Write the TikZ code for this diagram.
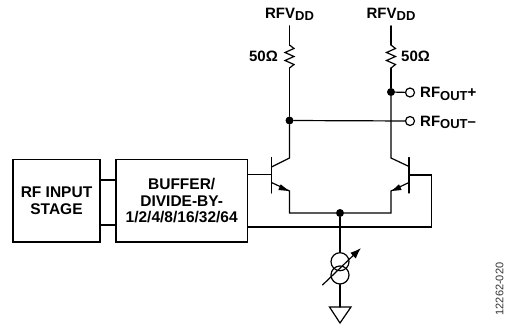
\documentclass[tikz,border=0pt]{standalone}
\usepackage{fontspec}
\setmainfont{Liberation Sans}
\usetikzlibrary{arrows.meta}
\newcommand{\lowtxt}[1]{\raisebox{-2.6pt}{\fontsize{13}{13}\selectfont #1}}
\tikzset{
  wire/.style={line width=1.2pt,line cap=round,line join=miter},
  blockbox/.style={draw,line width=1.2pt,inner sep=0pt,align=center,font=\bfseries\fontsize{15.5}{16.5}\selectfont},
  lbl/.style={inner sep=0pt,font=\bfseries\fontsize{15}{16}\selectfont},
  dot/.style={circle,fill=black,inner sep=0pt,minimum size=8pt},
  term/.style={circle,draw,fill=white,line width=1.2pt,inner sep=0pt,minimum size=9pt},
  isrc/.style={circle,draw,line width=1.2pt,inner sep=0pt,minimum size=18pt},
}
\begin{document}
\begin{tikzpicture}[x=1pt,y=-1pt]
\useasboundingbox (0,0) rectangle (506,327);
% blocks
\node[blockbox,minimum width=87pt,minimum height=82.5pt] (rf) at (56.5,200.7) {RF INPUT\\STAGE};
\node[blockbox,minimum width=131.5pt,minimum height=82.5pt] (buf) at (181.7,200.7) {BUFFER/\\DIVIDE-BY-\\1/2/4/8/16/32/64};
\draw[wire] (rf.east |- 0,180) -- (buf.west |- 0,180);
\draw[wire] (rf.east |- 0,225) -- (buf.west |- 0,225);
% supplies
\node[lbl,anchor=base] (vl) at (289.5,18) {RFV\lowtxt{DD}};
\node[lbl,anchor=base] (vr) at (391,18) {RFV\lowtxt{DD}};
\coordinate (lt) at (289.5,26);
\coordinate (rt) at (391,26);
\coordinate (ls) at (289.5,45);
\coordinate (le) at (289.5,68);
\coordinate (rs) at (391,45);
\coordinate (re) at (391,68);
\draw[wire,line width=1.7pt] (lt) -- (289.5,35);
\draw[wire,line width=1.7pt] (rt) -- (391,35);
\draw[wire] (289.5,35) -- (ls);
\draw[wire] (391,35) -- (rs);
\draw[wire] (ls) -- ++(4.5,3.5) -- ++(-9,4) -- ++(9,4) -- ++(-9,4) -- ++(9,4) -- (le);
\draw[wire] (rs) -- ++(4.5,3.5) -- ++(-9,4) -- ++(9,4) -- ++(-9,4) -- ++(9,4) -- (re);
\node[lbl,anchor=east] (rl) at (278,56.5) {50Ω};
\node[lbl,anchor=west] (rr) at (401,56.5) {50Ω};
% collector nodes
\node[dot] (nl) at (289.5,120.5) {};
\node[dot] (nr) at (391,92) {};
\node[term] (op) at (410,92.5) {};
\node[term] (om) at (410,121) {};
\node[lbl,anchor=base west] at (420,97.5) {RF\lowtxt{OUT}+};
\node[lbl,anchor=base west] at (420,126) {RF\lowtxt{OUT}–};
\draw[wire] (le) -- (nl);
\draw[wire] (re) -- (nr);
\draw[wire] (nr) -- (op);
\draw[wire] (nl) -- (om);
% left transistor
\coordinate (lc) at (289.5,158);
\coordinate (lg) at (289.5,191);
\coordinate (lcb) at (271.5,167);
\coordinate (leb) at (271.5,182.5);
\coordinate (lb) at (271.5,174.7);
\draw[wire] (271.5,157.5) -- (271.5,193);
\draw[wire] (nl) -- (lc) -- (lcb);
\draw[wire] (buf.east |- lb) -- (lb);
% right transistor
\coordinate (rc) at (391,158);
\coordinate (rg) at (391,191);
\coordinate (rcb) at (409,166.5);
\coordinate (reb) at (409,182.5);
\coordinate (rb) at (409,175);
\draw[wire] (409,157.5) -- (409,193);
\draw[wire] (nr) -- (rc) -- (rcb);
% emitters
\node[dot] (tail) at (340,213) {};
\draw[wire] (leb) -- (lg) -- (289.5,213) -- (tail);
\draw[wire] (reb) -- (rg) -- (391,213) -- (tail);
\fill (289,191) -- (280.7,184.3) -- (278.3,190) -- cycle;
\fill (391.7,191) -- (399,184.3) -- (401.7,190) -- cycle;
% cross-coupled feedback
\coordinate (fb1) at (431.5,175);
\coordinate (fb2) at (431.5,227);
\draw[wire] (rb) -- (fb1) -- (fb2) -- (buf.east |- fb2);
% current source
\node[isrc] (ia) at (340,261.7) {};
\node[isrc] (ib) at (340,275) {};
\coordinate (gt) at (340,307);
\draw[wire] (tail) -- (ia);
\draw[wire] (ib) -- (gt);
\coordinate (as) at (322.5,285);
\coordinate (ae) at (361,248);
\draw[wire,-{Latex[length=11pt,width=8pt]}] (as) -- (ae);
% ground
\draw[wire] (329.5,307) -- (351,307) -- (340,323) -- cycle;
% code
\node[inner sep=0pt,rotate=90,font=\fontsize{11}{11}\selectfont,text=black!80] (code) at (499.5,289) {12262-020};
\end{tikzpicture}
\end{document}
